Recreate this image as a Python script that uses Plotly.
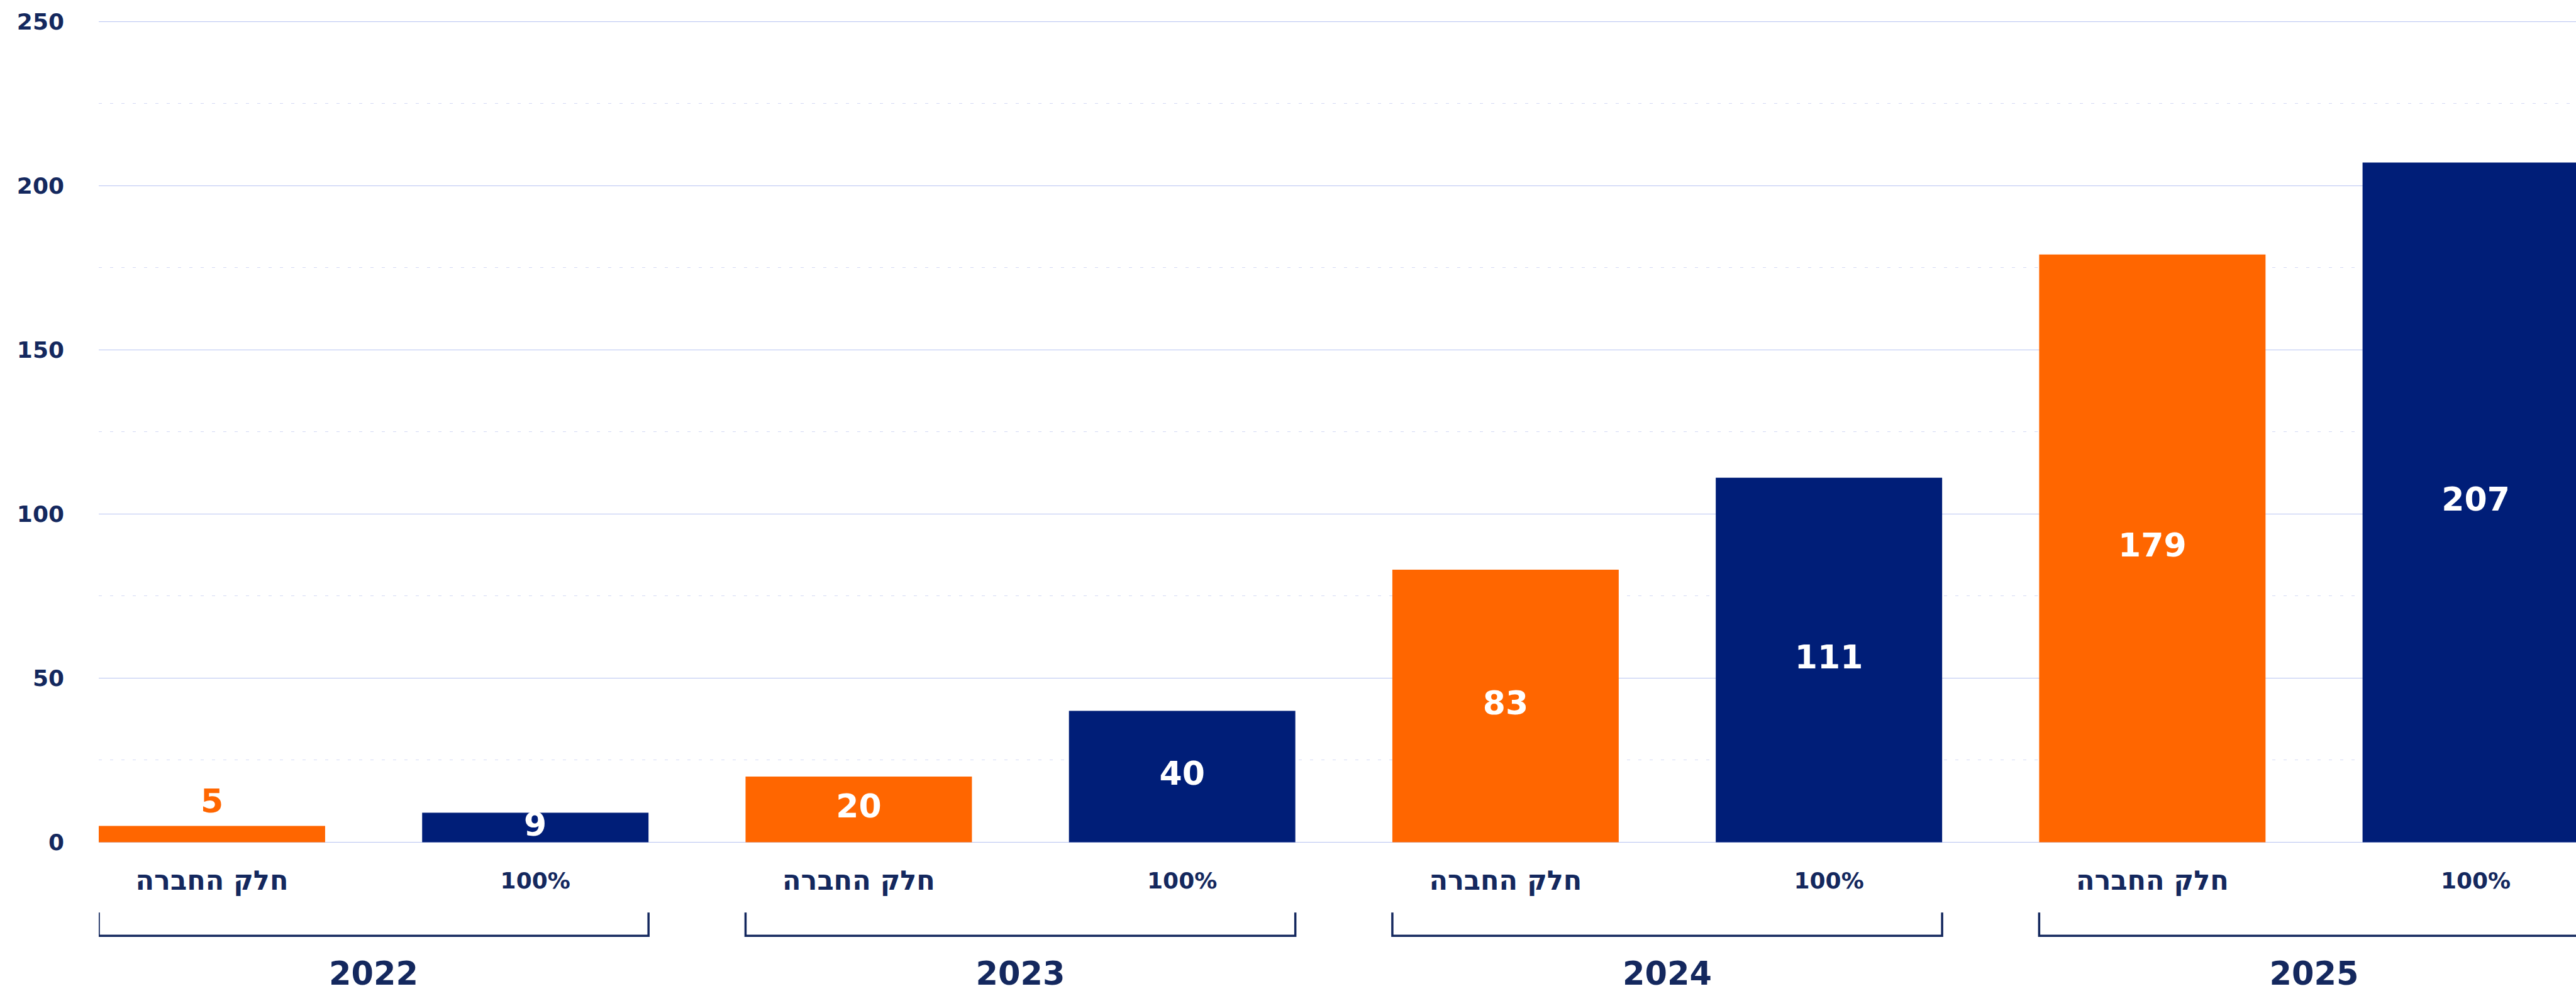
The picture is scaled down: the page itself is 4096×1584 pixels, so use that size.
import plotly.graph_objects as go

# ---- data ----
years = ["2022", "2023", "2024", "2025"]
series_names = ["חלק החברה", "100%"]
company_share = [5, 20, 83, 179]
full_share = [9, 40, 111, 207]
y_ticks = [0, 50, 100, 150, 200, 250]
y_minor = [25, 75, 125, 175, 225]

# ---- style ----
ORANGE = "#FF6600"
NAVY = "#001E78"
TEXT = "#14285E"
GRID = "#B8C4F2"
MINOR = "#D4DAF4"
FONT = "DejaVu Sans"
BAR_W = 0.7

n = len(years)
x_orange = [2 * i for i in range(n)]
x_navy = [2 * i + 1 for i in range(n)]

fig = go.Figure()
fig.add_trace(go.Bar(x=x_orange, y=company_share, width=BAR_W,
                     marker=dict(color=ORANGE, line=dict(width=0)),
                     hoverinfo="skip", showlegend=False))
fig.add_trace(go.Bar(x=x_navy, y=full_share, width=BAR_W,
                     marker=dict(color=NAVY, line=dict(width=0)),
                     hoverinfo="skip", showlegend=False))

# value labels
xs = x_orange + x_navy
vals = company_share + full_share
cols = [ORANGE] * n + [NAVY] * n
lab_y, lab_c = [], []
for v, c in zip(vals, cols):
    if v >= 8:
        lab_y.append(v / 2)
        lab_c.append("#FFFFFF")
    else:
        lab_y.append(v + 6.6)
        lab_c.append(c)
fig.add_trace(go.Scatter(x=xs, y=lab_y, mode="text", text=[str(v) for v in vals],
                         textposition="middle center",
                         textfont=dict(family=FONT, size=52, color=lab_c, weight="bold"),
                         hoverinfo="skip", showlegend=False, cliponaxis=False))

# category labels under bars
cat_x = []
cat_t = []
cat_s = []
for i in range(n):
    cat_x += [2 * i, 2 * i + 1]
    cat_t += series_names
    cat_s += [43, 36]
fig.add_trace(go.Scatter(x=cat_x, y=[-12.35] * len(cat_x), mode="text", text=cat_t,
                         textposition="middle center",
                         textfont=dict(family=FONT, size=cat_s, color=TEXT, weight="bold"),
                         hoverinfo="skip", showlegend=False))

# brackets
bx, by = [], []
for i in range(n):
    x0 = 2 * i - BAR_W / 2
    x1 = 2 * i + 1 + BAR_W / 2
    bx += [x0, x0, x1, x1, None]
    by += [-21.4, -28.5, -28.5, -21.4, None]
fig.add_trace(go.Scatter(x=bx, y=by, mode="lines",
                         line=dict(color=TEXT, width=3.5),
                         hoverinfo="skip", showlegend=False))

# year labels
fig.add_trace(go.Scatter(x=[2 * i + 0.5 for i in range(n)], y=[-40.9] * n, mode="text",
                         text=years, textposition="middle center",
                         textfont=dict(family=FONT, size=51, color=TEXT, weight="bold"),
                         hoverinfo="skip", showlegend=False))

fig.update_layout(
    width=4096, height=1584,
    margin=dict(l=157, r=0, t=32, b=0, pad=0),
    paper_bgcolor="white", plot_bgcolor="white",
    barmode="overlay",
    font=dict(family=FONT, color=TEXT),
    xaxis=dict(range=[-BAR_W / 2, 7.31], showgrid=False, zeroline=False,
               showticklabels=False, showline=False, ticks=""),
    yaxis=dict(range=[-46.82, 250.383], tickvals=y_ticks, ticktext=[str(t) for t in y_ticks],
               showgrid=True, gridcolor=GRID, gridwidth=1, zeroline=False,
               showline=False, ticks="", ticklabelstandoff=54,
               tickfont=dict(family=FONT, size=36, color=TEXT, weight="bold"),
               minor=dict(tickvals=y_minor, showgrid=True, gridcolor=MINOR,
                          griddash="5px,13px", gridwidth=1, ticks="")),
)

fig.write_html("out.html",
               post_script="document.body.style.margin='0';document.body.style.overflow='hidden';"
                           "var s=document.createElement('style');"
                           "s.textContent='.modebar-container{display:none !important;}';"
                           "document.head.appendChild(s);")
